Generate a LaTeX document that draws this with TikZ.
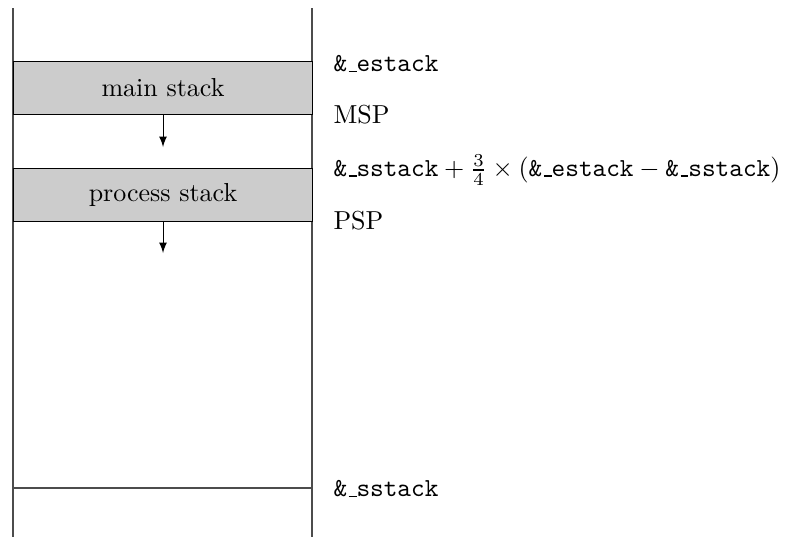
\documentclass[tikz,border=0pt]{standalone}
\usepackage{tikz}
\usetikzlibrary{positioning}
\newcommand\usc{\leavevmode\kern.06em\vbox{\hrule width.3em}}
\newcommand\addrname[1]{\texttt{\&\usc #1}}
\tikzset{
  stackbox/.style={draw, fill=black!20, minimum width=115pt, minimum height=20.4pt, inner sep=0pt, anchor=north west},
  wall/.style={draw=black!70},
  addr/.style={anchor=west, inner sep=0pt}
}
\begin{document}
\begin{tikzpicture}[x=0.3846pt, y=-0.3846pt]
  \useasboundingbox (0,0) rectangle (801,537);
  \coordinate (lt) at (13,8);
  \coordinate (lb) at (13,537);
  \coordinate (rt) at (312,8);
  \coordinate (rb) at (312,537);
  \draw[wall] (lt) -- (lb);
  \draw[wall] (rt) -- (rb);
  \node[stackbox] (main) at (13,61) {main stack};
  \node[stackbox] (proc) at (13,168) {process stack};
  \coordinate (msp) at (162,147);
  \coordinate (psp) at (162,253);
  \draw[-latex] (main.south) -- (main.south |- msp);
  \draw[-latex] (proc.south) -- (proc.south |- psp);
  \coordinate (sl) at (13,488);
  \coordinate (sr) at (312,488);
  \draw[wall] (sl) -- (sr);
  \node[addr] (estack) at (333,64) {\addrname{estack}};
  \node[addr] (mspl) at (333,115) {MSP};
  \node[addr] (split) at (333,170) {$\addrname{sstack} + \frac{3}{4} \times (\addrname{estack} - \addrname{sstack})$};
  \node[addr] (pspl) at (333,221) {PSP};
  \node[addr] (sstack) at (333,489) {\addrname{sstack}};
\end{tikzpicture}
\end{document}
